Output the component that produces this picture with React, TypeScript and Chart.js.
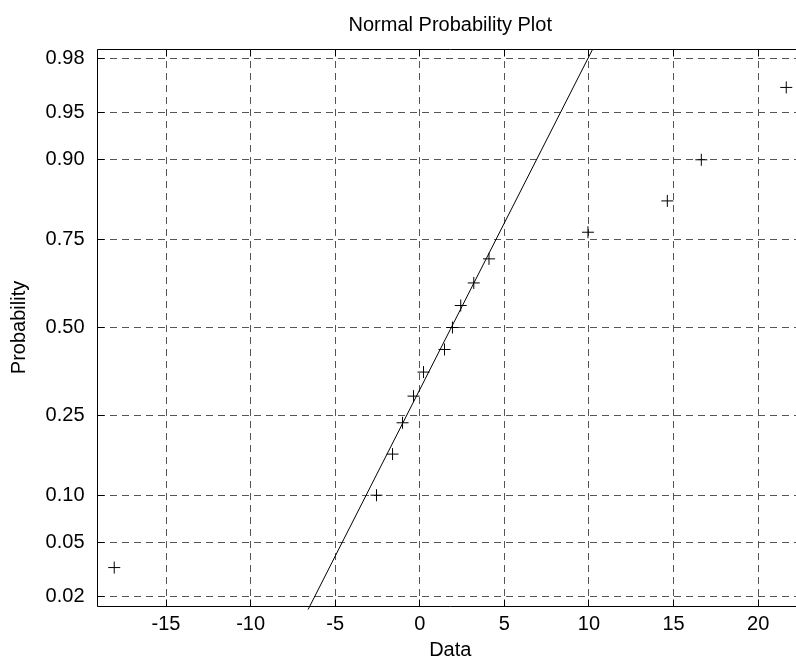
import React, { useEffect, useRef } from "react";
import { Chart, LinearScale, registerables } from "chart.js";

// ---- data ----
const dataValues = [-18.06, -2.56, -1.61, -1.02, -0.37, 0.22, 1.46, 1.93, 2.42, 3.19, 4.09, 9.94, 14.63, 16.64, 21.66];
const dataProbs = [0.0333, 0.1, 0.1667, 0.2333, 0.3, 0.3667, 0.4333, 0.5, 0.5667, 0.6333, 0.7, 0.7667, 0.8333, 0.9, 0.9667];
const fitLineX = [-6.6, 10.2];
const fitLineP = [0.0156, 0.9831];
const xTicks = [-15, -10, -5, 0, 5, 10, 15, 20];
const xMin = -19.05;
const xMax = 22.65;
const probTicks = [0.02, 0.05, 0.1, 0.25, 0.5, 0.75, 0.9, 0.95, 0.98];
const probMin = 0.016667;
const probMax = 0.983333;

const FONT = "'Liberation Sans', Arial, Helvetica, sans-serif";

// inverse standard normal CDF (Acklam)
function norminv(p: number): number {
  const a = [-3.969683028665376e1, 2.209460984245205e2, -2.759285104469687e2, 1.38357751867269e2, -3.066479806614716e1, 2.506628277459239];
  const b = [-5.447609879822406e1, 1.615858368580409e2, -1.556989798598866e2, 6.680131188771972e1, -1.328068155288572e1];
  const c = [-7.784894002430293e-3, -3.223964580411365e-1, -2.400758277161838, -2.549732539343734, 4.374664141464968, 2.938163982698783];
  const d = [7.784695709041462e-3, 3.224671290700398e-1, 2.445134137142996, 3.754408661907416];
  const pl = 0.02425;
  if (p < pl) {
    const q = Math.sqrt(-2 * Math.log(p));
    return (((((c[0] * q + c[1]) * q + c[2]) * q + c[3]) * q + c[4]) * q + c[5]) / ((((d[0] * q + d[1]) * q + d[2]) * q + d[3]) * q + 1);
  }
  if (p > 1 - pl) {
    const q = Math.sqrt(-2 * Math.log(1 - p));
    return -(((((c[0] * q + c[1]) * q + c[2]) * q + c[3]) * q + c[4]) * q + c[5]) / ((((d[0] * q + d[1]) * q + d[2]) * q + d[3]) * q + 1);
  }
  const q = p - 0.5;
  const r = q * q;
  return ((((((a[0] * r + a[1]) * r + a[2]) * r + a[3]) * r + a[4]) * r + a[5]) * q) / (((((b[0] * r + b[1]) * r + b[2]) * r + b[3]) * r + b[4]) * r + 1);
}

function normcdf(z: number): number {
  const t = 1 / (1 + 0.3275911 * Math.abs(z) / Math.SQRT2);
  const y = 1 - (((((1.061405429 * t - 1.453152027) * t + 1.421413741) * t - 0.284496736) * t + 0.254829592) * t) * Math.exp(-(z * z) / 2);
  return z >= 0 ? 0.5 * (1 + y) : 0.5 * (1 - y);
}

// normal-probability axis
class ProbitScale extends LinearScale {
  static id = "probit";
  static defaults = {};
  determineDataLimits() {
    (this as any).min = (this as any).options.min;
    (this as any).max = (this as any).options.max;
  }
  buildTicks() {
    return probTicks.map((v) => ({ value: v }));
  }
  getPixelForValue(value: number) {
    const a = norminv((this as any).min);
    const b = norminv((this as any).max);
    return (this as any).getPixelForDecimal((norminv(value) - a) / (b - a));
  }
  getValueForPixel(pixel: number) {
    const a = norminv((this as any).min);
    const b = norminv((this as any).max);
    const d = (this as any).getDecimalForPixel(pixel);
    return normcdf(a + d * (b - a));
  }
}

Chart.register(...registerables, ProbitScale as any);

const alignPx = (v: number) => Math.round(v - 0.5) + 0.5;

const framePlugin = {
  id: "matlabFrame",
  afterDraw(chart: any) {
    const { ctx, chartArea, scales } = chart;
    const L = alignPx(chartArea.left);
    const T = alignPx(chartArea.top);
    const R = alignPx(chartArea.right);
    const B = alignPx(chartArea.bottom);
    const tl = 7;
    ctx.save();
    ctx.strokeStyle = "#000";
    ctx.lineWidth = 1;
    ctx.setLineDash([]);
    ctx.beginPath();
    ctx.rect(L, T, R - L, B - T);
    scales.x.ticks.forEach((_t: any, i: number) => {
      const px = alignPx(scales.x.getPixelForTick(i));
      ctx.moveTo(px, B);
      ctx.lineTo(px, B - tl);
      ctx.moveTo(px, T);
      ctx.lineTo(px, T + tl);
    });
    scales.y.ticks.forEach((_t: any, i: number) => {
      const py = alignPx(scales.y.getPixelForTick(i));
      ctx.moveTo(L, py);
      ctx.lineTo(L + tl, py);
      ctx.moveTo(R, py);
      ctx.lineTo(R - tl, py);
    });
    ctx.stroke();
    ctx.restore();
  },
};

export default function App() {
  const ref = useRef<HTMLCanvasElement>(null);
  useEffect(() => {
    if (!ref.current) return;
    const points = dataValues.map((v, i) => ({ x: v, y: dataProbs[i] }));
    const fit = fitLineX.map((v, i) => ({ x: v, y: fitLineP[i] }));
    const chart = new Chart(ref.current, {
      type: "scatter",
      data: {
        datasets: [
          {
            data: fit,
            showLine: true,
            borderColor: "#000",
            borderWidth: 1,
            pointRadius: 0,
            clip: { left: 0, top: 0, right: 0, bottom: 5 } as any,
          },
          {
            data: points,
            showLine: false,
            pointStyle: "cross",
            pointRadius: 6,
            borderColor: "#000",
            backgroundColor: "#000",
            borderWidth: 1,
          },
        ],
      },
      options: {
        responsive: false,
        animation: false,
        devicePixelRatio: 1,
        events: [],
        layout: { padding: { left: 0, right: 6.5, top: 0, bottom: 0 } },
        plugins: {
          legend: { display: false },
          tooltip: { enabled: false },
          title: {
            display: true,
            text: "Normal Probability Plot",
            fullSize: false,
            color: "#000",
            font: { family: FONT, size: 20, weight: "normal", lineHeight: 1.2 },
            padding: { top: 13.5, bottom: 11.5 },
          },
        },
        scales: {
          x: {
            type: "linear",
            min: xMin,
            max: xMax,
            afterBuildTicks: (axis: any) => {
              axis.ticks = xTicks.map((v) => ({ value: v }));
            },
            afterFit: (axis: any) => {
              axis.height = 53;
            },
            ticks: {
              autoSkip: false,
              maxRotation: 0,
              padding: 6,
              color: "#000",
              font: { family: FONT, size: 20, lineHeight: 1.2 },
              callback: (v: any) => String(v),
            },
            grid: { color: "#555", lineWidth: 1, drawTicks: false },
            border: { display: false, dash: [7, 5] },
            title: {
              display: true,
              text: "Data",
              color: "#000",
              font: { family: FONT, size: 20, lineHeight: 0.85 },
              padding: 0,
            },
          },
          y: {
            type: "probit" as any,
            min: probMin,
            max: probMax,
            afterFit: (axis: any) => {
              axis.width = 97.5;
            },
            ticks: {
              autoSkip: false,
              padding: 13,
              color: "#000",
              font: { family: FONT, size: 20, lineHeight: 1.2 },
              callback: (v: any) => Number(v).toFixed(2),
            },
            grid: { color: "#555", lineWidth: 1, drawTicks: false },
            border: { display: false, dash: [7, 5] },
            title: {
              display: true,
              text: "Probability",
              color: "#000",
              font: { family: FONT, size: 20, lineHeight: 1 },
              padding: { top: 9, bottom: 0 },
            },
          },
        } as any,
      },
      plugins: [framePlugin],
    } as any);
    return () => chart.destroy();
  }, []);
  return (
    <div
      style={{
        position: "fixed",
        left: 0,
        top: 0,
        width: 796,
        height: 659,
        overflow: "hidden",
        background: "#fff",
      }}
    >
      <canvas ref={ref} width={810} height={659} style={{ display: "block", width: 810, height: 659 }} />
    </div>
  );
}
